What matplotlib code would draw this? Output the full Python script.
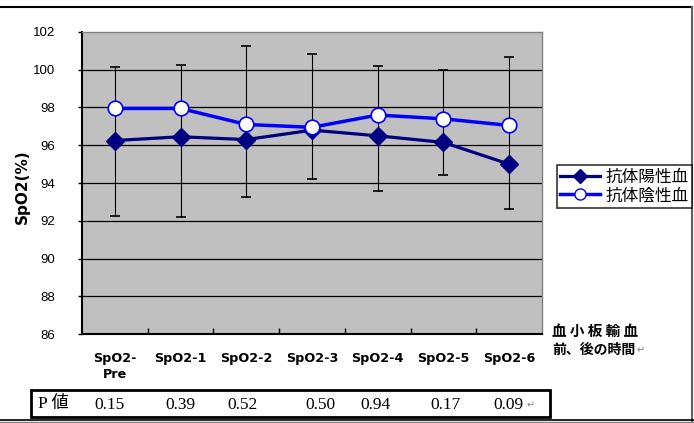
import matplotlib
matplotlib.use("Agg")
import matplotlib.pyplot as plt
from matplotlib.lines import Line2D
from matplotlib.patches import Rectangle
import matplotlib.transforms as mtransforms

W, H = 694, 423

# --- dados ---
categorias = ["SpO2-\nPre", "SpO2-1", "SpO2-2", "SpO2-3", "SpO2-4", "SpO2-5", "SpO2-6"]
positivo = [96.25, 96.45, 96.3, 96.8, 96.5, 96.15, 95.0]
negativo = [97.95, 97.95, 97.1, 96.95, 97.6, 97.4, 97.05]
erro_topo = [100.15, 100.25, 101.25, 100.85, 100.2, 100.0, 100.7]
erro_base = [92.25, 92.2, 93.25, 94.2, 93.55, 94.45, 92.6]
p_valores = ["0.15", "0.39", "0.52", "0.50", "0.94", "0.17", "0.09"]
nome_pos = "抗体陽性血"
nome_neg = "抗体陰性血"

JP = ["Noto Sans CJK JP", "DejaVu Sans"]
SERIF = ["Liberation Serif", "Noto Sans CJK JP"]
ESCURO = "#000080"
AZUL = "#0000FF"

fig = plt.figure(figsize=(W / 100, H / 100), dpi=100)
fig.patch.set_facecolor("white")

# área do gráfico (pixels -> fração)
x0, x1, y0, y1 = 82, 542, 32, 334
ax = fig.add_axes([x0 / W, 1 - y1 / H, (x1 - x0) / W, (y1 - y0) / H])
ax.set_facecolor("#C0C0C0")
xs = list(range(len(categorias)))

ax.set_xlim(-0.5, len(categorias) - 0.5)
ax.set_ylim(86, 102)
ax.set_yticks(range(86, 103, 2))
for v in range(88, 102, 2):
    ax.axhline(v, color="black", lw=0.9, zorder=1)

# barras de erro
yerr = [[p - b for p, b in zip(positivo, erro_base)],
        [t - p for p, t in zip(positivo, erro_topo)]]
ax.errorbar(xs, positivo, yerr=yerr, fmt="none", ecolor="black",
            elinewidth=0.8, capsize=3.5, capthick=1.2, zorder=2)

ax.plot(xs, positivo, color=ESCURO, lw=2.3, marker="D", ms=9,
        mfc=ESCURO, mec=ESCURO, zorder=3)
ax.plot(xs, negativo, color=AZUL, lw=2.5, marker="o", ms=10.5,
        mfc="white", mec=AZUL, mew=1.2, zorder=4)

# eixos estilo Excel
for s in ("left", "bottom"):
    ax.spines[s].set_color("black")
    ax.spines[s].set_linewidth(1.5)
for s in ("top", "right"):
    ax.spines[s].set_color("#808080")
    ax.spines[s].set_linewidth(1.0)

ax.set_xticks(xs)
ax.set_xticklabels(categorias, fontsize=9.2, fontweight="bold",
                   family="DejaVu Sans", linespacing=1.25)
ax.tick_params(axis="x", length=0, pad=13)
ax.set_xticks([i + 0.5 for i in xs[:-1]], minor=True)
ax.tick_params(axis="x", which="minor", direction="in", length=4, width=1, color="black")
ax.tick_params(axis="y", direction="out", length=3, width=1, pad=16)
for lb in ax.get_yticklabels():
    lb.set_family("Liberation Sans")
    lb.set_fontsize(9.5)
for lb in ax.get_xticklabels():
    lb.set_verticalalignment("top")

fig.text(22 / W, 1 - 187 / H, "SpO2(%)", rotation=90, ha="center", va="center",
         fontsize=11, fontweight="bold", family="DejaVu Sans")

# legenda
h_pos = Line2D([], [], color=ESCURO, lw=2.3, marker="D", ms=7, mfc=ESCURO, mec=ESCURO)
h_neg = Line2D([], [], color=AZUL, lw=2.5, marker="o", ms=8, mfc="white", mec=AZUL)
leg = fig.legend([h_pos, h_neg], [nome_pos, nome_neg], loc="center",
                 bbox_to_anchor=((557 + 692) / 2 / W, 1 - (163 + 210) / 2 / H),
                 prop={"family": JP, "size": 12}, frameon=True, fancybox=False,
                 handlelength=2.4, handletextpad=0.3, borderpad=0.2,
                 labelspacing=0.1, borderaxespad=0)
leg.get_frame().set_edgecolor("black")
leg.get_frame().set_linewidth(1.2)

# título do eixo x à direita
fig.text(552 / W, 1 - 331 / H, "血 小 板 輸 血", ha="left", va="center",
         fontsize=10.5, fontweight="bold", family=JP)
fig.text(552 / W, 1 - 350 / H, "前、後の時間", ha="left", va="center",
         fontsize=10, fontweight="bold", family=JP)
fig.text(637 / W, 1 - 350 / H, "↵", ha="left", va="center",
         fontsize=7, color="#808080", family="DejaVu Sans")

# camada de sobreposição em pixels
ov = fig.add_axes([0, 0, 1, 1], zorder=-1)
ov.set_xlim(0, W)
ov.set_ylim(H, 0)
ov.axis("off")
ov.patch.set_alpha(0)
ov.plot([0, 692], [7, 7], color="black", lw=1.5)
ov.plot([692, 692], [7, 421], color="#606060", lw=1.5)
ov.plot([0, 694], [420, 420], color="black", lw=1.2)
ov.plot([0, 694], [422, 422], color="#808080", lw=1.0)

# tabela de valores P
ov.add_patch(Rectangle((31, 390), 519, 27, fill=False, ec="black", lw=2.0))
ov.text(38, 404, "P 値", ha="left", va="center", fontsize=12.5, family=SERIF)
trans = mtransforms.blended_transform_factory(ax.transData, ov.transData)
deslocs = [-5, 0, -4, 8, -2, 2, -1]
for i, (p, d) in enumerate(zip(p_valores, deslocs)):
    ov.text(i, 405, p, ha="center", va="center", fontsize=12.5, family=SERIF,
            transform=trans + mtransforms.ScaledTranslation(d / 100, 0, fig.dpi_scale_trans))
ov.text(527, 405, "↵", ha="left", va="center", fontsize=7, color="#808080",
        family="DejaVu Sans")

fig.savefig("out.png", dpi=100, facecolor="white")
